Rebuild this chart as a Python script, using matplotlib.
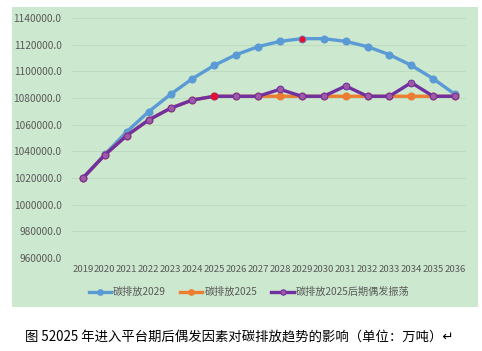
import numpy as np
import matplotlib
matplotlib.use("Agg")
import matplotlib.pyplot as plt
from matplotlib.patches import Rectangle

plt.rcParams['font.family'] = ['Noto Sans CJK SC', 'DejaVu Sans']

years = [str(y) for y in range(2019, 2037)]
peak_2029 = [1020000, 1037700, 1054700, 1069700, 1082700, 1094500, 1104500, 1112500, 1118500,
             1122500, 1124500, 1124500, 1122500, 1118500, 1112500, 1104500, 1094500, 1082700]
plateau_2025 = [1020000, 1037300, 1051800, 1063500, 1072300, 1078500, 1081300, 1081300, 1081300,
                1081300, 1081300, 1081300, 1081300, 1081300, 1081300, 1081300, 1081300, 1081300]
shock_2025 = [1020000, 1037300, 1051800, 1063500, 1072300, 1078500, 1081300, 1081300, 1081300,
              1086500, 1081300, 1081300, 1089000, 1081300, 1081300, 1091500, 1081300, 1081300]
labels = ['碳排放2029', '碳排放2025', '碳排放2025后期偶发振荡']
caption = '图 52025 年进入平台期后偶发因素对碳排放趋势的影响（单位：万吨）↵'

W, H = 482, 351
fig = plt.figure(figsize=(W / 100, H / 100), dpi=100)
fig.patch.set_facecolor('white')
bg = '#CCE8CF'
fig.patches.append(Rectangle((12 / W, 1 - 307 / H), 466 / W, 300 / H,
                             transform=fig.transFigure, facecolor=bg, edgecolor='none', zorder=-10))

ax = fig.add_axes([72 / W, 1 - 258 / H, 394 / W, 240 / H])
ax.set_facecolor('none')
x = np.arange(len(years))

ax.plot(x, peak_2029, color='#5B9BD5', lw=2.4, marker='o', ms=4.8, label=labels[0], zorder=3)
ax.plot(x, plateau_2025, color='#ED7D31', lw=2.4, marker='o', ms=4.8, label=labels[1], zorder=3)
ax.plot(x, shock_2025, color='#7030A0', lw=2.4, marker='o', ms=4.8, mfc='#A05AA5',
        mec='#7030A0', mew=0.8, label=labels[2], zorder=4)
# highlighted points
ax.plot(x[10], peak_2029[10], 'o', color='#E8112D', ms=3.5, zorder=5)
ax.plot(x[6], shock_2025[6], 'o', color='#E8112D', ms=4, zorder=5)

ax.set_xlim(-0.5, len(years) - 0.5)
ax.set_ylim(960000, 1140000)
ax.set_yticks(np.arange(960000, 1140001, 20000))
ax.set_yticklabels([f'{v:.1f}' for v in np.arange(960000, 1140001, 20000)])
ax.set_xticks(x)
ax.set_xticklabels(years)
ax.tick_params(axis='y', length=0, labelsize=7.3, colors='#595959', pad=7.5)
ax.tick_params(axis='x', length=0, labelsize=6.9, colors='#595959', pad=5)
ax.grid(axis='y', color='#B9D9BD', lw=0.6)
for s in ax.spines.values():
    s.set_visible(False)

leg = ax.legend(loc='center', bbox_to_anchor=(249 / W, 1 - 292 / H), bbox_transform=fig.transFigure,
                ncol=3, frameon=False, fontsize=7.3, labelcolor='#595959', handlelength=2.2,
                handletextpad=0.2, columnspacing=1.4, markerscale=0.8)

fig.text(25 / W, 1 - 338 / H, caption, fontsize=9.6, color='black', va='center', ha='left')

fig.savefig('out.png', dpi=100)
